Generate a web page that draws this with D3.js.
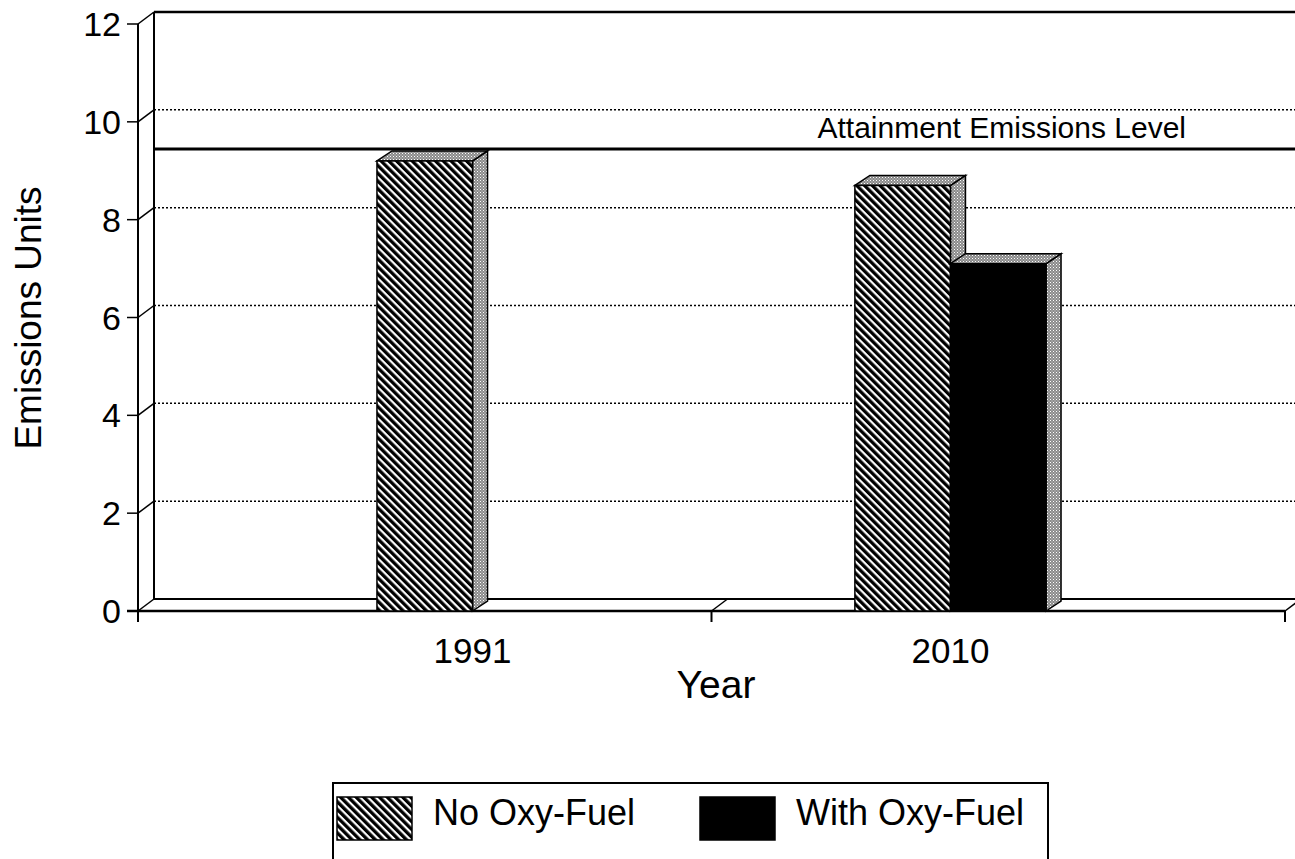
<!DOCTYPE html>
<html><head><meta charset="utf-8">
<script src="https://cdn.jsdelivr.net/npm/d3@7"></script>
<style>body{margin:0;background:#fff}svg{display:block}text{font-family:"Liberation Sans",Arial,sans-serif;fill:#000}</style>
</head><body>
<svg id="c" width="1295" height="859"></svg>
<script>
const years = ["1991", "2010"];
const series = ["No Oxy-Fuel", "With Oxy-Fuel"];
const noOxy = [9.2, 8.7];
const withOxy = [null, 7.1];
const attainment = 9.2;
const attainmentLabel = "Attainment Emissions Level";
const yTicks = [0, 2, 4, 6, 8, 10, 12];
const yTitle = "Emissions Units";
const xTitle = "Year";

const svg = d3.select("#c");
const W = 1295, H = 859;
const L = 138, R = 1285, B = 611, T = 24;
const wdx = 16, wdy = -12;   // wall depth
const bdx = 15, bdy = -10;   // bar depth

const y = d3.scaleLinear().domain([0, 12]).range([B, T]);
const x0 = d3.scaleBand().domain(years).range([L, R]).paddingInner(0.6).paddingOuter(0.5);
const x1 = d3.scaleBand().domain(series).range([0, x0.bandwidth()]);

const defs = svg.append("defs");
const hatch = defs.append("pattern").attr("id", "hatch").attr("patternUnits", "userSpaceOnUse")
  .attr("width", 5.5).attr("height", 5.5).attr("patternTransform", "rotate(-45)");
hatch.append("rect").attr("width", 5.5).attr("height", 5.5).attr("fill", "#fff");
hatch.append("rect").attr("width", 3.3).attr("height", 5.5).attr("fill", "#000");
const stip = defs.append("pattern").attr("id", "stip").attr("patternUnits", "userSpaceOnUse")
  .attr("width", 3).attr("height", 3);
stip.append("rect").attr("width", 3).attr("height", 3).attr("fill", "#8a8a8a");
stip.append("rect").attr("width", 1).attr("height", 1).attr("fill", "#fff");
stip.append("rect").attr("x", 1.5).attr("y", 1.5).attr("width", 1).attr("height", 1).attr("fill", "#e0e0e0");

const g = svg.append("g");
const line = (x1_, y1_, x2_, y2_, w, dash) => {
  const l = g.append("line").attr("x1", x1_).attr("y1", y1_).attr("x2", x2_).attr("y2", y2_)
    .attr("stroke", "#000").attr("stroke-width", w);
  if (dash) l.attr("stroke-dasharray", dash);
  return l;
};

// back wall gridlines (dotted)
yTicks.filter(v => v > 0 && v < 12).forEach(v => {
  line(L + wdx, y(v) + wdy, W, y(v) + wdy, 1.5, "2,2");
});
// top border of back wall
line(L + wdx, y(12) + wdy, W, y(12) + wdy, 2.5);
// left wall lines
line(L, y(12), L, B + 11, 2);
line(L + wdx, y(12) + wdy, L + wdx, y(0) + wdy, 2);
// left wall diagonals and ticks
yTicks.forEach(v => {
  line(L - 11, y(v), L, y(v), 1.5);
  line(L, y(v), L + wdx, y(v) + wdy, 1.5);
});
// floor
line(L + wdx, y(0) + wdy, R + wdx, y(0) + wdy, 2);
line(L - 11, B, R, B, 2.5);
// x ticks
const mid = x0(years[1]) - x0.step() * x0.paddingInner() / 2;
[mid, R].forEach(xv => {
  line(xv, B, xv, B + 11, 2);
  line(xv, B, xv + wdx, B + wdy, 1.5);
});

// attainment line
line(L + wdx, y(attainment) + wdy, W, y(attainment) + wdy, 3);
g.append("text").attr("x", 1186).attr("y", y(attainment) + wdy - 11)
  .attr("text-anchor", "end").attr("font-size", 30).text(attainmentLabel);

// bars
const bars = [];
years.forEach((yr, i) => {
  [[series[0], noOxy[i]], [series[1], withOxy[i]]].forEach(([s, v]) => {
    if (v == null) return;
    bars.push({ yr, s, v });
  });
});
bars.forEach(d => {
  const xl = x0(d.yr) + x1(d.s), xr = xl + x1.bandwidth(), yt = y(d.v);
  const bg = g.append("g");
  bg.append("path").attr("d", `M${xr},${B}L${xr + bdx},${B + bdy}L${xr + bdx},${yt + bdy}L${xr},${yt}Z`)
    .attr("fill", "url(#stip)").attr("stroke", "#000").attr("stroke-width", 1.5);
  bg.append("path").attr("d", `M${xl},${yt}L${xl + bdx},${yt + bdy}L${xr + bdx},${yt + bdy}L${xr},${yt}Z`)
    .attr("fill", "url(#stip)").attr("stroke", "#000").attr("stroke-width", 1.5);
  bg.append("rect").attr("x", xl).attr("y", yt).attr("width", x1.bandwidth()).attr("height", B - yt)
    .attr("fill", d.s === series[0] ? "url(#hatch)" : "#000").attr("stroke", "#000").attr("stroke-width", 1.5);
});

// y tick labels
yTicks.forEach(v => {
  g.append("text").attr("x", 121).attr("y", y(v) + 12).attr("text-anchor", "end")
    .attr("font-size", 34).text(v);
});
// x labels
years.forEach(yr => {
  g.append("text").attr("x", x0(yr) + x0.bandwidth() / 2).attr("y", 663)
    .attr("text-anchor", "middle").attr("font-size", 35).text(yr);
});
g.append("text").attr("x", 716).attr("y", 698).attr("text-anchor", "middle")
  .attr("font-size", 39).text(xTitle);
g.append("text").attr("transform", "translate(41,318) rotate(-90)").attr("text-anchor", "middle")
  .attr("font-size", 37).text(yTitle);

// legend
const lg = svg.append("g");
lg.append("rect").attr("x", 333).attr("y", 783).attr("width", 715).attr("height", 100)
  .attr("fill", "none").attr("stroke", "#000").attr("stroke-width", 2);
const legendX = [337, 700];
series.forEach((s, i) => {
  lg.append("rect").attr("x", legendX[i]).attr("y", 797).attr("width", 75).attr("height", 43)
    .attr("fill", i === 0 ? "url(#hatch)" : "#000").attr("stroke", "#000").attr("stroke-width", 1.5);
  lg.append("text").attr("x", legendX[i] + 96).attr("y", 825).attr("font-size", 36).text(s);
});
</script>
</body></html>
